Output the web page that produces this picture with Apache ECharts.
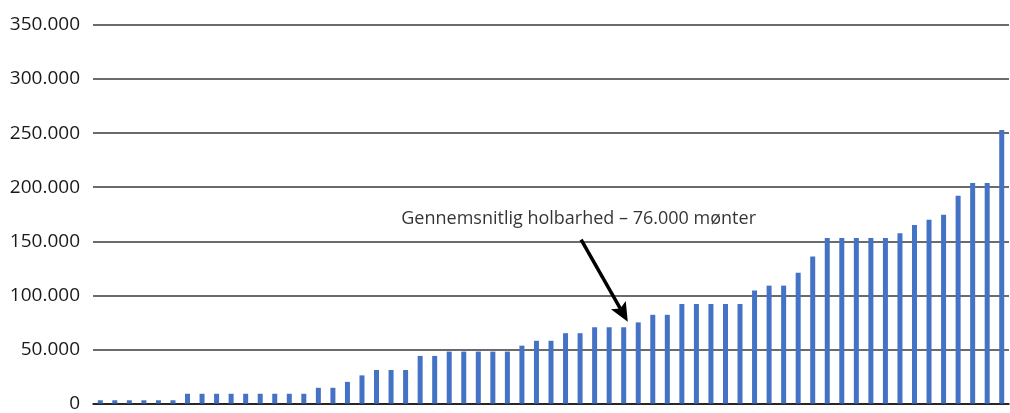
<!DOCTYPE html>
<html>
<head>
<meta charset="utf-8">
<script src="https://cdn.jsdelivr.net/npm/echarts@6/dist/echarts.min.js"></script>
<style>
html,body{margin:0;padding:0;background:#fff;}
#chart{width:1010px;height:413px;}
</style>
</head>
<body>
<div id="chart"></div>
<script>
// Data
const categories = Array.from({length: 63}, (_, i) => String(i + 1));
const values = [
  3000, 3000, 3000, 3000, 3000, 3000,
  9000, 9000, 9000, 9000, 9000, 9000, 9000, 9000, 9000,
  14500, 14500, 20000, 26000,
  31000, 31000, 31000,
  44000, 44000,
  48000, 48000, 48000, 48000, 48000,
  53500, 58000, 58000,
  65000, 65000,
  70500, 70500, 70500,
  75000,
  82000, 82000,
  92000, 92000, 92000, 92000, 92000,
  104500, 109000, 109000, 121000, 136000,
  153000, 153000, 153000, 153000, 153000,
  157500, 165000, 170000, 174500, 192000,
  204000, 204000, 253000
];
const yTicks = [0, 50000, 100000, 150000, 200000, 250000, 300000, 350000];
const annotationText = 'Gennemsnitlig holbarhed – 76.000 mønter';
// annotation anchor in (bar index, value) space
const annotationPos = [32.9, 171000];
const arrowFrom = [33.07, 151500];
const arrowTo = [36.28, 75700];

const fmt = v => v === 0 ? '0' : String(v).replace(/\B(?=(\d{3})+(?!\d))/g, '.');
const FONT = 'Open Sans';

const chart = echarts.init(document.getElementById('chart'), null, {renderer: 'canvas'});
chart.setOption({
  animation: false,
  backgroundColor: '#ffffff',
  grid: {left: 93, right: 1, top: 25, bottom: 3, containLabel: false},
  xAxis: [
    {
      type: 'category',
      data: categories,
      axisLine: {show: true, lineStyle: {color: '#111', width: 1.5}},
      axisTick: {show: false},
      axisLabel: {show: false},
      splitLine: {show: false}
    },
    {
      type: 'value',
      min: -0.5,
      max: categories.length - 0.5,
      show: false
    }
  ],
  yAxis: {
    type: 'value',
    min: yTicks[0],
    max: yTicks[yTicks.length - 1],
    interval: 50000,
    axisLine: {show: false},
    axisTick: {show: false},
    axisLabel: {
      formatter: fmt,
      fontFamily: FONT,
      fontSize: 19,
      color: '#1a1a1a',
      margin: 13
    },
    splitLine: {lineStyle: {color: '#3a3a3a', width: 1.5}}
  },
  series: [
    {
      type: 'bar',
      data: values,
      barWidth: 5,
      itemStyle: {color: '#4472C4'},
      z: 2
    },
    {
      type: 'scatter',
      xAxisIndex: 1,
      yAxisIndex: 0,
      symbolSize: 0,
      data: [annotationPos],
      label: {
        show: true,
        position: 'inside',
        formatter: annotationText,
        fontFamily: FONT,
        fontSize: 18,
        color: '#000'
      },
      z: 6
    }
  ]
});

// Arrow annotation, positioned through the chart's own scales
const finder = {xAxisIndex: 1, yAxisIndex: 0};
const p0 = chart.convertToPixel(finder, arrowFrom);
const p1 = chart.convertToPixel(finder, arrowTo);
const dx = p1[0] - p0[0], dy = p1[1] - p0[1];
const len = Math.sqrt(dx * dx + dy * dy);
const ux = dx / len, uy = dy / len;
const nx = -uy, ny = ux;
const headLen = 19, headHalf = 8.5, notch = 4;
const base = [p1[0] - ux * headLen, p1[1] - uy * headLen];
const back = [p1[0] - ux * (headLen - notch), p1[1] - uy * (headLen - notch)];
chart.setOption({
  graphic: [
    {
      type: 'line',
      shape: {x1: p0[0], y1: p0[1], x2: back[0], y2: back[1]},
      style: {stroke: '#000', lineWidth: 3.5},
      z: 100
    },
    {
      type: 'polygon',
      shape: {points: [
        p1,
        [base[0] + nx * headHalf, base[1] + ny * headHalf],
        back,
        [base[0] - nx * headHalf, base[1] - ny * headHalf]
      ]},
      style: {fill: '#000'},
      z: 100
    }
  ]
});
</script>
</body>
</html>
